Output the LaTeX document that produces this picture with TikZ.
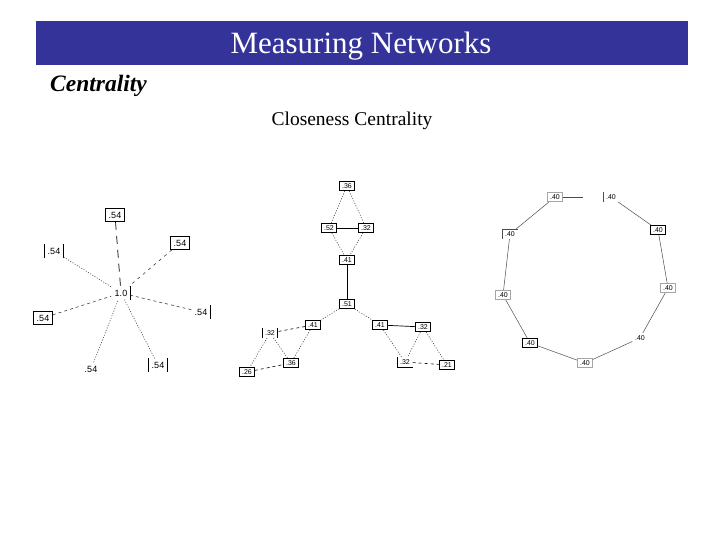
\documentclass[tikz,border=0pt]{standalone}
\usepackage{fontspec}
\setmainfont{Liberation Serif}
\newfontfamily\lblfont{Liberation Sans}
\begin{document}
\begin{tikzpicture}[x=1pt,y=-1pt,
  lbl/.style={font=\lblfont\fontsize{9}{10}\selectfont, inner sep=1.5pt, minimum width=19pt, minimum height=13pt},
  sm/.style={font=\lblfont\fontsize{7}{8}\selectfont, inner sep=1pt, minimum width=15pt, minimum height=9.5pt},
  bx/.style={draw=black, line width=0.7pt},
  lbx/.style={draw=gray!70, line width=0.6pt},
  edot/.style={black!75, line width=0.6pt, dash pattern=on 1pt off 1.6pt},
  edash/.style={black!75, line width=0.6pt, dashed},
  elong/.style={black, line width=0.7pt, dash pattern=on 8pt off 6pt},
  esol/.style={black, line width=0.7pt},
  ering/.style={black!70, line width=0.5pt}]
\useasboundingbox (0,0) rectangle (720,540);
% title bar
\fill[fill={rgb,255:red,51;green,51;blue,153}] (36,21) rectangle (688,65);
\node[font=\fontsize{31}{34}\selectfont, text=white] (title) at (361,46) {Measuring Networks};
\node[font=\bfseries\itshape\fontsize{23.5}{26}\selectfont, anchor=west, inner sep=0pt] (cent) at (50,86) {Centrality};
\node[font=\fontsize{19.5}{22}\selectfont] (close) at (352,121) {Closeness Centrality};

% ---- star graph ----
\node[lbl] (c) at (121,293) {1.0};
\node[lbl,bx] (s1) at (115,215) {.54};
\node[lbl] (s2) at (54,251) {.54};
\node[lbl,bx] (s3) at (180,243) {.54};
\node[lbl] (s4) at (201,312) {.54};
\node[lbl,bx] (s5) at (43,318) {.54};
\node[lbl] (s6) at (91,369) {.54};
\node[lbl] (s7) at (158,365) {.54};
\draw[esol] (c.north east) -- (c.south east);
\draw[esol] (s2.north west) -- (s2.south west);
\draw[esol] (s2.north east) -- (s2.south east);
\draw[esol] (s4.north east) -- (s4.south east);
\draw[esol] (s7.north west) -- (s7.south west);
\draw[esol] (s7.north east) -- (s7.south east);
\draw[elong] (s1) -- (c);
\draw[edot] (s2) -- (c);
\draw[edash, dash pattern=on 3pt off 4pt] (s3) -- (c);
\draw[edash] (s4) -- (c);
\draw[edash] (s5) -- (c);
\draw[edot] (s6) -- (c);
\draw[edot] (s7) -- (c);

% ---- middle graph ----
\node[sm,bx] (m1) at (347,186) {.36};
\node[sm,bx] (m2) at (329,228) {.52};
\node[sm,bx] (m3) at (366,228) {.32};
\node[sm,bx] (m4) at (347,260) {.41};
\node[sm,bx] (m5) at (347,304) {.51};
\node[sm,bx] (m6) at (313,325) {.41};
\node[sm] (m7) at (270,333) {.32};
\node[sm,bx] (m8) at (291,363) {.36};
\node[sm,bx] (m9) at (247,372) {.26};
\node[sm,bx] (m10) at (380,325) {.41};
\node[sm,bx] (m11) at (423,327) {.32};
\node[sm] (m12) at (405,362) {.32};
\node[sm,bx] (m13) at (447,365) {.21};
\draw[esol] (m7.north west) -- (m7.south west);
\draw[esol] (m7.north east) -- (m7.south east);
\draw[esol] (m12.north west) -- (m12.south west);
\draw[esol] (m12.south west) -- (m12.south east);
\draw[edot] (m1) -- (m2);
\draw[edot] (m1) -- (m3);
\draw[esol] (m2) -- (m3);
\draw[edot] (m2) -- (m4);
\draw[edot] (m3) -- (m4);
\draw[esol] (m4) -- (m5);
\draw[edot] (m5) -- (m6);
\draw[edot] (m5) -- (m10);
\draw[edash, black] (m6) -- (m7);
\draw[edot] (m6) -- (m8);
\draw[edot] (m7) -- (m8);
\draw[edot] (m7) -- (m9);
\draw[edash, black] (m9) -- (m8);
\draw[esol] (m10) -- (m11);
\draw[edot] (m10) -- (m12);
\draw[edot] (m11) -- (m12);
\draw[edot] (m11) -- (m13);
\draw[edash, black] (m12) -- (m13);

% ---- ring graph ----
\node[sm,lbx] (r1) at (555,197) {.40};
\node[sm] (r2) at (611,197) {.40};
\node[sm,bx] (r3) at (658,230) {.40};
\node[sm,lbx] (r4) at (668,288) {.40};
\node[sm] (r5) at (640,338) {.40};
\node[sm,lbx] (r6) at (585,363) {.40};
\node[sm,bx] (r7) at (530,343) {.40};
\node[sm,lbx] (r8) at (503,295) {.40};
\node[sm] (r9) at (510,234) {.40};
\coordinate (rend) at (583,197);
\draw[ering] (r2.north west) -- (r2.south west);
\draw[ering] (r9.north west) -- (r9.south west);
\draw[ering] (r9.north west) -- (r9.north east);
\draw[ering] (r1) -- (rend);
\draw[ering] (r2) -- (r3);
\draw[ering] (r3) -- (r4);
\draw[ering] (r4) -- (r5);
\draw[ering] (r5) -- (r6);
\draw[ering] (r6) -- (r7);
\draw[ering] (r7) -- (r8);
\draw[ering] (r8) -- (r9);
\draw[ering] (r9) -- (r1);
\end{tikzpicture}
\end{document}
